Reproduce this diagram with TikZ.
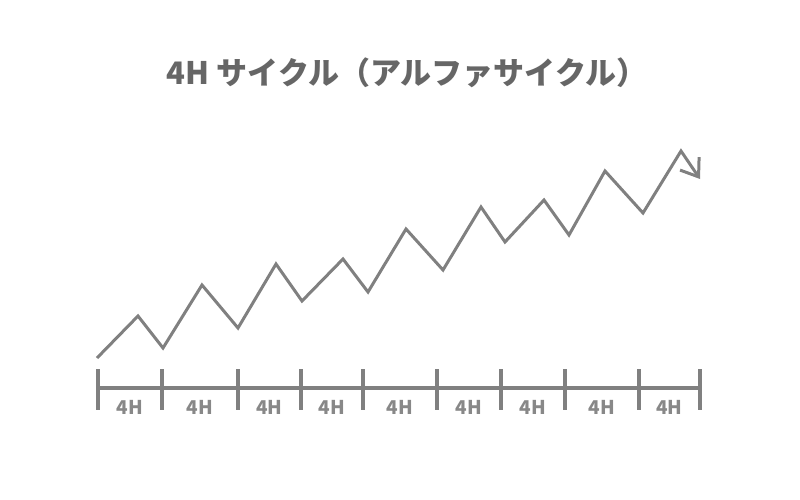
\documentclass[tikz,border=0pt]{standalone}
\usepackage{fontspec}
\newfontfamily\jp{Noto Sans CJK JP}
\usetikzlibrary{arrows.meta,calc}
\definecolor{linegray}{HTML}{808080}
\definecolor{titlegray}{HTML}{666666}
\definecolor{labelgray}{HTML}{888888}
\begin{document}
\begin{tikzpicture}[x=1pt,y=-1pt,
  zig/.style={draw=linegray,line width=3pt,line join=miter},
  axisline/.style={draw=linegray,line width=3.5pt},
  ticklbl/.style={text=labelgray,font=\jp\bfseries\fontsize{19}{19}\selectfont,inner sep=0pt},
  titlelbl/.style={text=titlegray,font=\jp\bfseries\fontsize{31}{31}\selectfont,inner sep=0pt}]
\path[use as bounding box] (0,0) rectangle (800,500);
\node[titlelbl] (title) at (407,73) {4H サイクル（アルファサイクル）};
% zigzag
\foreach \n/\x/\y in {p0/97/358,p1/138/316,p2/163/348,p3/202/285,p4/238/328,p5/276/264,p6/302/301,p7/343/259,p8/368/292,p9/406/229,p10/443/270,p11/481/207,p12/505/242,p13/544/200,p14/569/235,p15/605/171,p16/643/213,p17/681/151,p18/700/179}
  \coordinate (\n) at (\x,\y);
\draw[zig,-{Straight Barb[length=16pt,width=23pt,line width=3pt]}]
  (p0)--(p1)--(p2)--(p3)--(p4)--(p5)--(p6)--(p7)--(p8)--(p9)--(p10)--(p11)--(p12)--(p13)--(p14)--(p15)--(p16)--(p17)--(p18);
% axis
\foreach \n/\x in {t0/98,t1/162,t2/238,t3/301,t4/363,t5/437,t6/501,t7/565,t8/639,t9/700}{
  \coordinate (\n top) at (\x,369);
  \coordinate (\n bot) at (\x,410);
  \coordinate (\n) at (\x,388);
}
\draw[axisline] (t0) -- (t9);
\foreach \n in {t0,t1,t2,t3,t4,t5,t6,t7,t8,t9}
  \draw[axisline] (\n top) -- (\n bot);
\foreach \a/\b/\m in {t0/t1/l1,t1/t2/l2,t2/t3/l3,t3/t4/l4,t4/t5/l5,t5/t6/l6,t6/t7/l7,t7/t8/l8,t8/t9/l9}
  \node[ticklbl] (\m) at ($(\a)!0.5!(\b)+(0,19)$) {4H};
\end{tikzpicture}
\end{document}
